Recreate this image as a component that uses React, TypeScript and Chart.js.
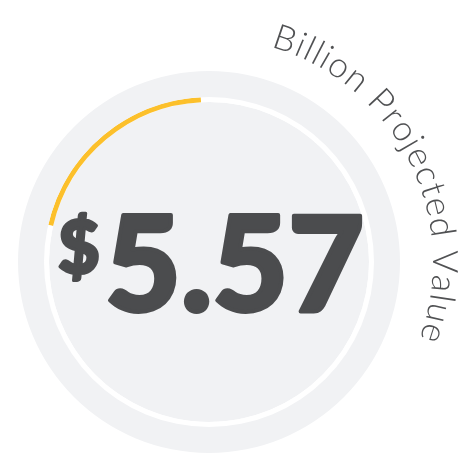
import React, { useEffect, useRef } from 'react';
import { Chart, registerables } from 'chart.js';
Chart.register(...registerables);

const valueText = '5.57';
const currencyText = '$';
const captionText = 'Billion Projected Value';
const segmentLabels = ['Projected', 'Remaining'];
const gaugeValues = [20.6, 79.4];
const discValues = [1];

export default function App() {
  const ref = useRef<HTMLCanvasElement>(null);
  useEffect(() => {
    const textPlugin = {
      id: 'centerText',
      afterDraw(chart: any) {
        const arc = chart.getDatasetMeta(1).data[0];
        const cx = arc.x;
        const cy = arc.y;
        const ctx = chart.ctx as CanvasRenderingContext2D;
        ctx.save();
        ctx.fillStyle = '#4b4c4e';
        ctx.strokeStyle = '#4b4c4e';
        ctx.lineJoin = 'round';
        ctx.textBaseline = 'alphabetic';
        ctx.textAlign = 'left';
        ctx.font = '900 131px Lato';
        ctx.lineWidth = 4;
        ctx.fillText(valueText, cx - 104, cy + 49);
        ctx.strokeText(valueText, cx - 104, cy + 49);
        ctx.font = '900 72px Lato';
        ctx.lineWidth = 3;
        ctx.fillText(currencyText, cx - 151, cy + 11);
        ctx.strokeText(currencyText, cx - 151, cy + 11);
        // curved caption
        ctx.fillStyle = '#505153';
        ctx.font = '300 35px Lato';
        ctx.textAlign = 'center';
        const r = 224;
        const startA = (16 * Math.PI) / 180;
        const endA = (110 * Math.PI) / 180;
        const chars = Array.from(captionText);
        const widths = chars.map((ch) => ctx.measureText(ch).width);
        const natural = widths.reduce((s, w) => s + w, 0);
        const gap = ((endA - startA) * r - natural) / (chars.length - 1);
        let a = startA;
        chars.forEach((ch, i) => {
          const w = widths[i];
          const mid = a + w / 2 / r;
          ctx.save();
          ctx.translate(cx + r * Math.sin(mid), cy - r * Math.cos(mid));
          ctx.rotate(mid);
          ctx.fillText(ch, 0, 0);
          ctx.restore();
          a += (w + gap) / r;
        });
        ctx.restore();
      },
    };
    const chart = new Chart(ref.current as HTMLCanvasElement, {
      type: 'doughnut',
      data: {
        labels: segmentLabels,
        datasets: [
          { data: discValues, backgroundColor: ['#f1f2f4'], weight: 26, borderWidth: 0 } as any,
          { data: gaugeValues, backgroundColor: ['#fcc02b', '#ffffff'], weight: 5, borderWidth: 0, rotation: 283 } as any,
          { data: discValues, backgroundColor: ['#f1f2f4'], weight: 160, borderWidth: 0 } as any,
        ],
      },
      options: {
        responsive: false,
        animation: false,
        events: [],
        cutout: 0,
        layout: { padding: { left: 18, right: 73, top: 71, bottom: 3 } },
        plugins: { legend: { display: false }, tooltip: { enabled: false } },
      } as any,
      plugins: [textPlugin],
    });
    return () => chart.destroy();
  }, []);
  return (
    <div style={{ position: 'absolute', left: 0, top: 0, width: 473, height: 456 }}>
      <canvas ref={ref} width={473} height={456} />
    </div>
  );
}
